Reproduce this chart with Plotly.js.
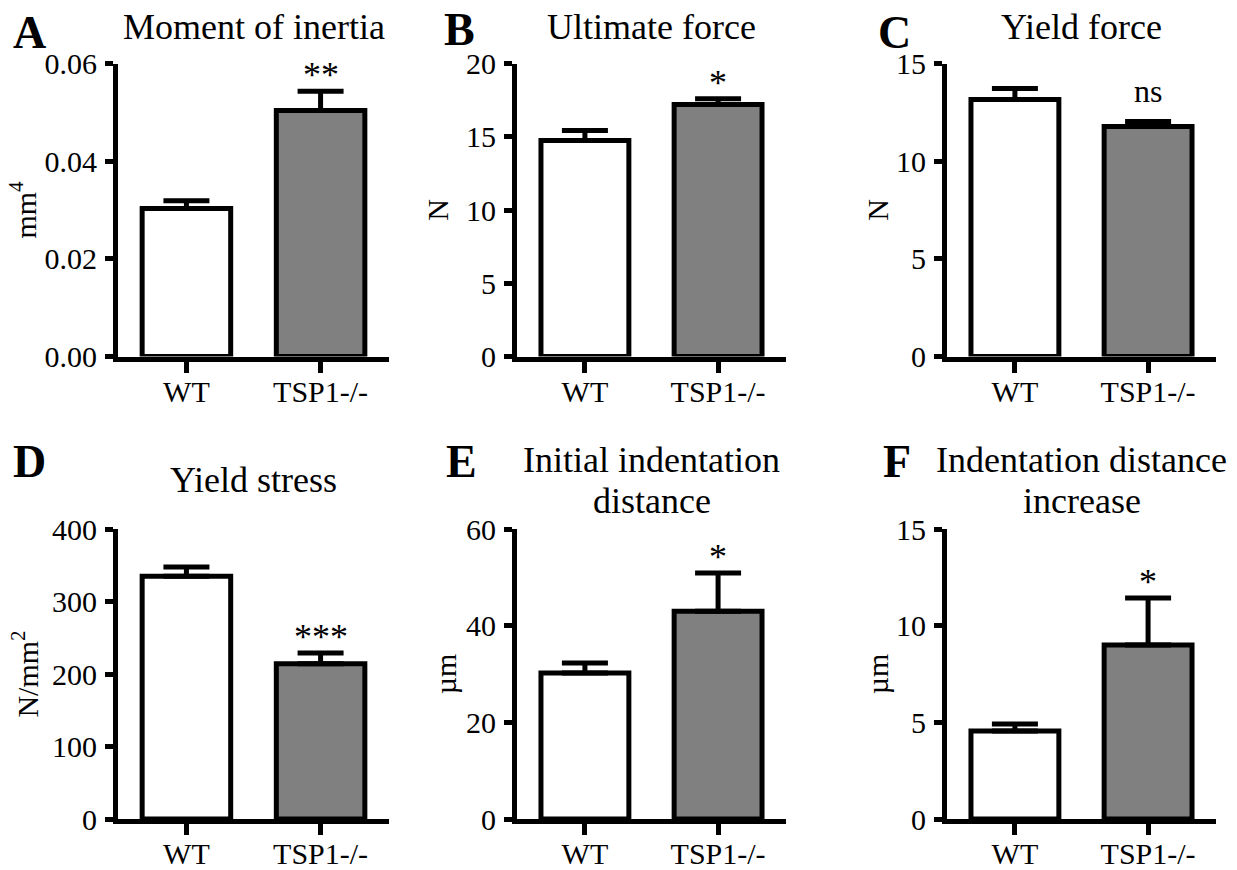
<!DOCTYPE html>
<html>
<head>
<meta charset="utf-8">
<script src="https://cdn.plot.ly/plotly-3.0.1.min.js"></script>
<style>html,body{margin:0;padding:0;background:#fff;}#chart{width:1237px;height:870px;}</style>
</head>
<body>
<div id="chart"></div>
<script>
// ---- data ----
const groups = ['WT', 'TSP1-/-'];
const panelLetters = ['A', 'B', 'C', 'D', 'E', 'F'];
const panelTitleLines = [['Moment of inertia'], ['Ultimate force'], ['Yield force'], ['Yield stress'], ['Initial indentation', 'distance'], ['Indentation distance', 'increase']];
const yTitles = ['mm<sup>4</sup>', 'N', 'N', 'N/mm<sup>2</sup>', 'µm', 'µm'];
const inertiaMean = [0.0303, 0.0504];
const inertiaSEM = [0.0016, 0.0039];
const ultimateForceMean = [14.74, 17.2];
const ultimateForceSEM = [0.69, 0.40];
const yieldForceMean = [13.16, 11.78];
const yieldForceSEM = [0.56, 0.25];
const yieldStressMean = [335, 214];
const yieldStressSEM = [12.6, 15.0];
const initialIndentMean = [30.2, 43.0];
const initialIndentSEM = [2.1, 7.9];
const indentIncreaseMean = [4.55, 9.0];
const indentIncreaseSEM = [0.36, 2.43];
const significance = ['**', '*', 'ns', '***', '*', '*'];
const yMax = [0.06, 20, 15, 400, 60, 15];
const yStep = [0.02, 5, 5, 100, 20, 5];
const yFormat = ['.2f', 'd', 'd', 'd', 'd', 'd'];

const means = [inertiaMean, ultimateForceMean, yieldForceMean, yieldStressMean, initialIndentMean, indentIncreaseMean];
const sems = [inertiaSEM, ultimateForceSEM, yieldForceSEM, yieldStressSEM, initialIndentSEM, indentIncreaseSEM];

// ---- layout geometry (px) ----
const W = 1237, H = 870;
const colPx = [[118, 389], [517, 786], [947, 1216]];
const rowPx = [[63.5, 356.5], [529, 819]];
const yTitleStandoff = [1, 10, 0, 6, 2, 0];
const titleCenters = [[27], [27], [27], [480], [460, 501], [460, 501]];
const letterPos = [[11, 33], [442, 30], [876, 33], [11, 461], [444, 462], [881, 462]];
const FONT = 'Liberation Serif';

const data = [];
const layout = {
  width: W, height: H,
  margin: {l: 0, r: 0, t: 0, b: 0},
  paper_bgcolor: '#fff', plot_bgcolor: '#fff',
  showlegend: false,
  font: {family: FONT, color: '#000', size: 30},
  annotations: []
};

for (let i = 0; i < 6; i++) {
  const col = i % 3, row = Math.floor(i / 3);
  const xs = i === 0 ? '' : String(i + 1);
  const xa = 'xaxis' + xs, ya = 'yaxis' + xs;
  const xr = 'x' + xs, yr = 'y' + xs;
  data.push({
    type: 'bar', x: groups, y: means[i], xaxis: xr, yaxis: yr,
    width: 0.66,
    marker: {color: ['#ffffff', '#808080'], line: {color: '#000', width: 5}},
    error_y: {type: 'data', symmetric: false, array: sems[i], arrayminus: [0, 0], color: '#000', thickness: 5, width: 23},
    hoverinfo: 'skip'
  });
  const [x0, x1] = colPx[col];
  const [yt, yb] = rowPx[row];
  layout[xa] = {
    domain: [x0 / W, x1 / W], anchor: yr, type: 'category',
    range: [-0.51, 1.51], showline: true, linewidth: 5, linecolor: '#000',
    ticks: 'outside', ticklen: 11, tickwidth: 5, tickcolor: '#000',
    ticklabelstandoff: -7,
    showgrid: false, zeroline: false, fixedrange: true,
    tickfont: {family: FONT, size: 30, color: '#000'}
  };
  layout[ya] = {
    domain: [(H - yb) / H, (H - yt) / H], anchor: xr,
    range: [0, yMax[i]], dtick: yStep[i], tick0: 0, tickformat: yFormat[i],
    showline: true, linewidth: 5, linecolor: '#000',
    ticks: 'outside', ticklen: 8, tickwidth: 5, tickcolor: '#000',
    ticklabelstandoff: 2,
    showgrid: false, zeroline: false, fixedrange: true,
    tickfont: {family: FONT, size: 30, color: '#000'},
    title: {text: yTitles[i], font: {family: FONT, size: 30, color: '#000'}, standoff: yTitleStandoff[i]}
  };
  // panel title (one annotation per line)
  panelTitleLines[i].forEach((line, k) => {
    layout.annotations.push({
      xref: xr + ' domain', yref: 'paper', x: 0.5, y: (H - titleCenters[i][k]) / H,
      xanchor: 'center', yanchor: 'middle', showarrow: false,
      text: line, font: {family: FONT, size: 36, color: '#000'}
    });
  });
  // panel letter
  layout.annotations.push({
    xref: 'paper', yref: 'paper', x: letterPos[i][0] / W, y: (H - letterPos[i][1]) / H,
    xanchor: 'left', yanchor: 'middle', showarrow: false,
    text: '<b>' + panelLetters[i] + '</b>', font: {family: FONT, size: 46, color: '#000'}
  });
  // significance mark above the TSP1-/- error bar
  const isNs = significance[i] === 'ns';
  layout.annotations.push({
    xref: xr, yref: yr, x: groups[1], y: means[i][1] + sems[i][1],
    xanchor: 'center', yanchor: 'bottom', showarrow: false, yshift: isNs ? 11 : -6,
    text: significance[i], font: {family: FONT, size: isNs ? 32 : 36, color: '#000'}
  });
}

Plotly.newPlot('chart', data, layout, {displayModeBar: false, staticPlot: true});
</script>
</body>
</html>
